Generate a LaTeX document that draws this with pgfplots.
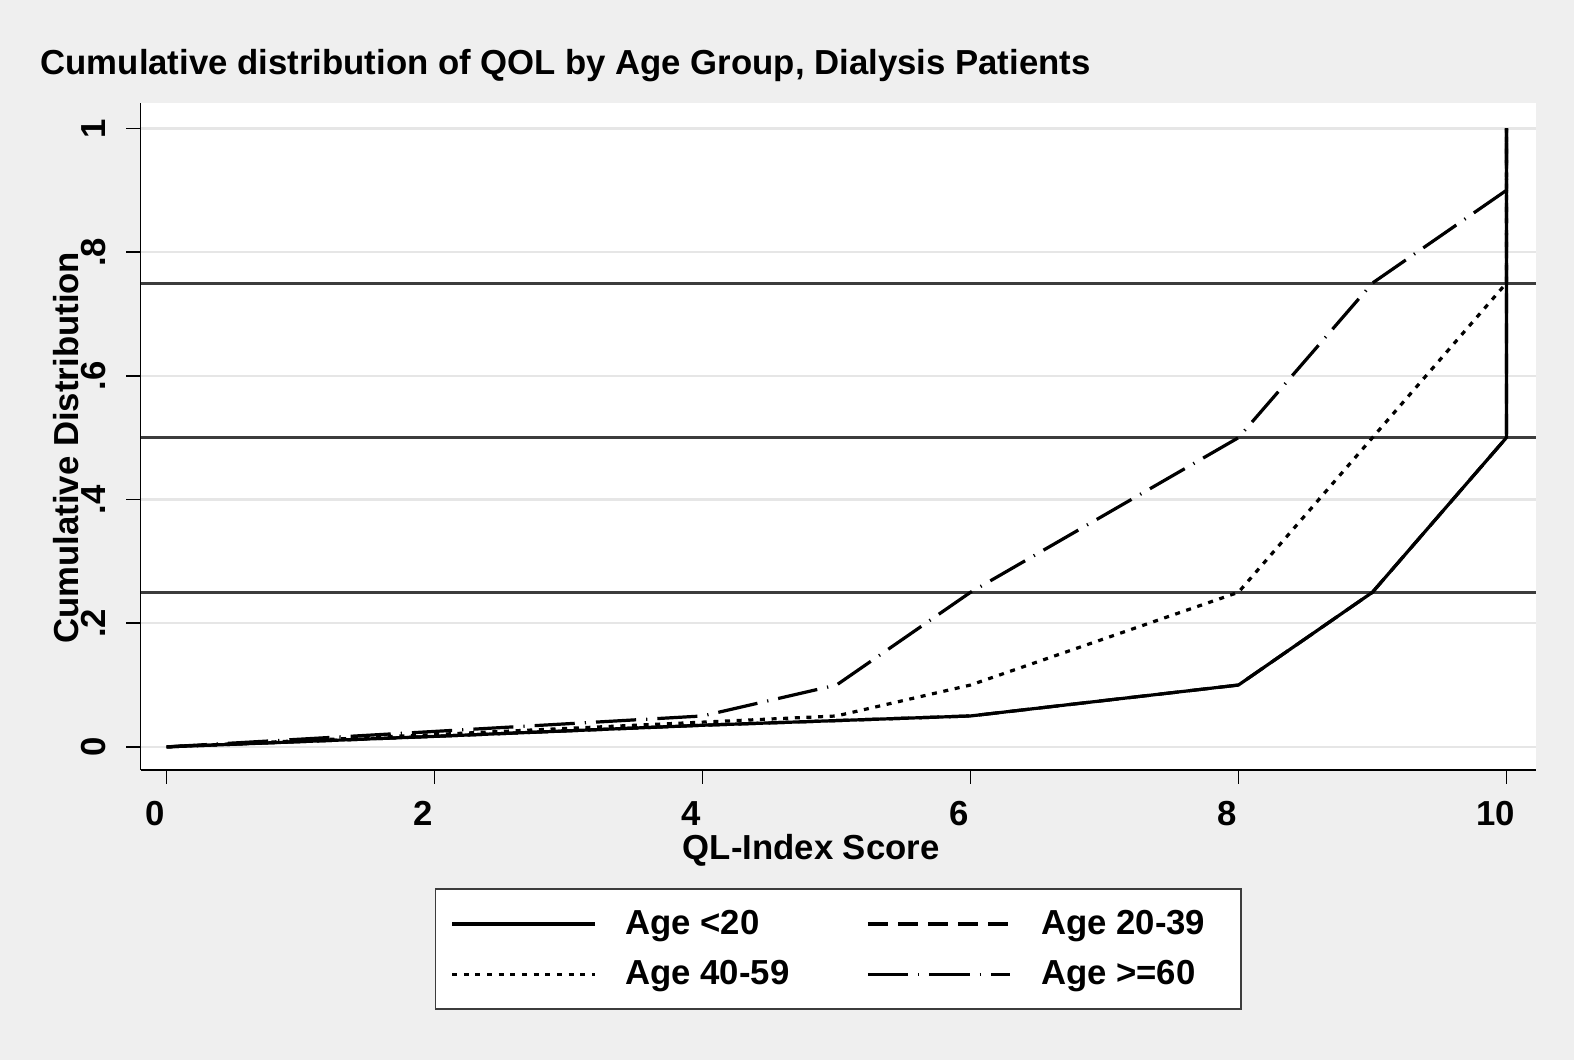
\documentclass[border=0pt]{standalone}
\usepackage{fontspec}
\setmainfont{Liberation Sans}
\usepackage{pgfplots}
\pgfplotsset{compat=1.18}
\definecolor{bggray}{HTML}{EFEFEF}
\definecolor{gridgray}{HTML}{E6E6E6}
\definecolor{refgray}{HTML}{3C3C3C}
\newcommand{\cf}{\fontsize{17.3}{19}\selectfont\bfseries}
\begin{document}
\begin{tikzpicture}
\fill[bggray] (0,0) rectangle (784pt,528pt);
\begin{axis}[
 at={(70pt,144.5pt)}, anchor=south west,
 scale only axis, width=695pt, height=332pt,
 xmin=-0.195, xmax=10.22, ymin=-0.0373, ymax=1.0406,
 axis lines*=left,
 axis line style={line width=0.9pt, black, -},
 axis background/.style={fill=white},
 xtick={0,2,4,6,8,10},
 xticklabels={0,2,4,6,8,10},
 ytick={0,0.2,0.4,0.6,0.8,1},
 yticklabels={0,.2,.4,.6,.8,1},
 tick align=outside,
 major tick length=7pt,
 every tick/.style={black, line width=0.8pt},
 ymajorgrids,
 major grid style={gridgray, line width=1.2pt},
 /pgf/number format/assume math mode=true,
 ticklabel style={font=\cf, inner sep=0pt},
 xticklabel style={anchor=north, xshift=-5.5pt},
 yticklabel style={rotate=90, anchor=base},
 xticklabel shift=8.5pt,
 yticklabel shift=10.5pt,
 xlabel={QL-Index Score},
 ylabel={Cumulative Distribution},
 label style={font=\cf, inner sep=0pt},
 xlabel style={at={(axis description cs:0.4806,-0.1205)}, anchor=center},
 ylabel style={at={(axis description cs:-0.0532,0.4834)}, anchor=center},
 title={Cumulative distribution of QOL by Age Group, Dialysis Patients},
 title style={font=\cf, inner sep=0pt, at={(axis description cs:-0.0719,1.0257)}, anchor=base west},
 legend columns=2,
 legend cell align=left,
 legend image code/.code={\draw[#1] (0pt,0pt) -- (71pt,0pt);},
 legend style={at={(axis description cs:0.5,-0.2688)}, anchor=center,
   draw=refgray, line width=0.8pt, fill=white, font=\cf,
   inner xsep=7.5pt, inner ysep=9.5pt, row sep=9.5pt,
   nodes={inner sep=1pt},
   /tikz/every odd column/.append style={column sep=13.5pt}},
]
% reference lines
\addplot[refgray, line width=1.5pt, forget plot] coordinates {(-0.195,0.25) (10.22,0.25)};
\addplot[refgray, line width=1.5pt, forget plot] coordinates {(-0.195,0.5) (10.22,0.5)};
\addplot[refgray, line width=1.5pt, forget plot] coordinates {(-0.195,0.75) (10.22,0.75)};
% Age <20
\addplot[black, line width=1.6pt, line join=round] coordinates {
 (0,0) (2,0.017) (4,0.035) (6,0.05) (8,0.1) (9,0.25) (10,0.5) (10,1)};
\addlegendentry{\makebox[119pt][l]{Age <20}}
% Age 20-39
\addplot[black, line width=1.6pt, dash pattern=on 10pt off 5pt] coordinates {
 (0,0) (2,0.017) (4,0.035) (6,0.05) (8,0.1) (9,0.25) (10,0.5) (10,1)};
\addlegendentry{\makebox[91pt][l]{Age 20-39}}
% Age 40-59
\addplot[black, line width=1.6pt, dash pattern=on 2.5pt off 3.3pt] coordinates {
 (0,0) (2,0.02) (4,0.04) (5,0.05) (6,0.1) (8,0.25) (9,0.5) (10,0.75) (10,1)};
\addlegendentry{\makebox[119pt][l]{Age 40-59}}
% Age >=60
\addplot[black, line width=1.6pt, dash pattern=on 20pt off 5pt on 0.6pt off 5pt] coordinates {
 (0,0) (2,0.025) (4,0.05) (5,0.1) (6,0.25) (8,0.5) (9,0.75) (10,0.9) (10,1)};
\addlegendentry{\makebox[91pt][l]{Age >=60}}
\end{axis}
\end{tikzpicture}
\end{document}
